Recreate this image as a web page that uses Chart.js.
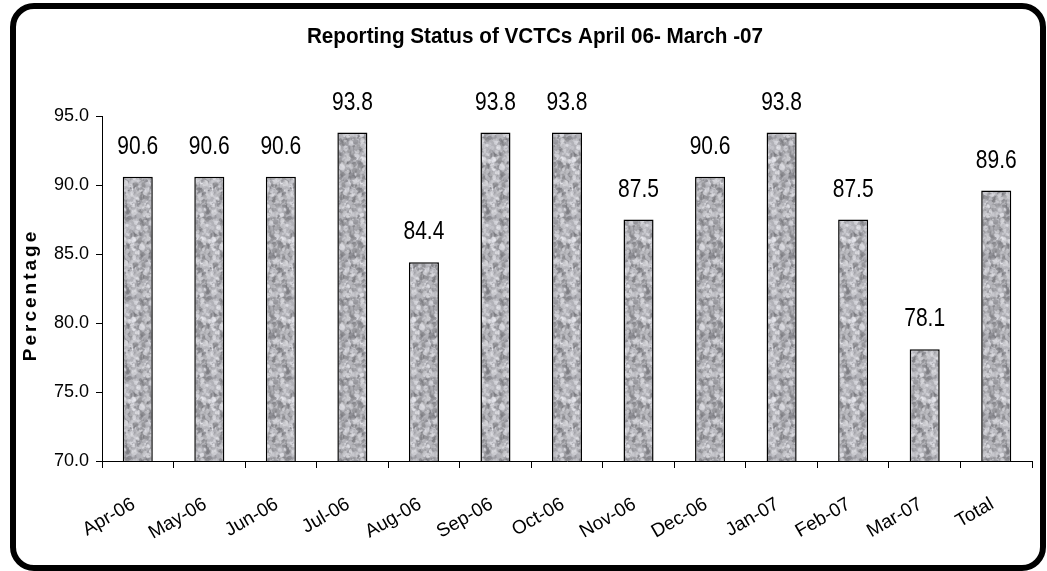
<!DOCTYPE html>
<html lang="en">
<head>
  <meta charset="UTF-8">
  <title>Reporting Status of VCTCs</title>
  <script src="https://cdn.jsdelivr.net/npm/chart.js"></script>
  <style>
    body { margin: 0; background: #fff; font-family: Arial, "Liberation Sans", sans-serif; }
    #wrap { position: relative; width: 1047px; height: 571px; overflow: hidden; }
    #frame {
      position: absolute; left: 10px; top: 3px; width: 1036px; height: 568px;
      box-sizing: border-box; border: 6px solid #000; border-radius: 24px;
    }
    canvas { position: absolute; left: 0; top: 0; }
  </style>
</head>
<body>
<div id="wrap">
  <div id="frame"></div>
  <canvas id="grafiku" width="1047" height="571"></canvas>
</div>
<script>
  const titulli = 'Reporting Status of VCTCs April 06- March -07';
  const muajt = ['Apr-06', 'May-06', 'Jun-06', 'Jul-06', 'Aug-06', 'Sep-06', 'Oct-06',
                 'Nov-06', 'Dec-06', 'Jan-07', 'Feb-07', 'Mar-07', 'Total'];
  const perqindja = [90.6, 90.6, 90.6, 93.8, 84.4, 93.8, 93.8, 87.5, 90.6, 93.8, 87.5, 78.1, 89.6];
  const yTicks = [70, 75, 80, 85, 90, 95];

  // granite texture for bars (seeded so it is the same each run)
  function rng(seed) {
    return function () {
      seed |= 0; seed = seed + 0x6D2B79F5 | 0;
      let t = Math.imul(seed ^ seed >>> 15, 1 | seed);
      t = t + Math.imul(t ^ t >>> 7, 61 | t) ^ t;
      return ((t ^ t >>> 14) >>> 0) / 4294967296;
    };
  }
  function granit() {
    const w = 40, h = 80;
    const raw = document.createElement('canvas');
    raw.width = w; raw.height = h;
    const c = raw.getContext('2d');
    c.fillStyle = '#b2b2b8';
    c.fillRect(0, 0, w, h);
    const r = rng(11);
    for (let i = 0; i < 700; i++) {
      const dark = r() < 0.45;
      const g = dark ? Math.round(95 + r() * 60) : Math.round(185 + r() * 65);
      c.fillStyle = `rgba(${g},${g},${g + 5},0.5)`;
      const x = r() * w, y = r() * h, s = 0.8 + r() * 2.2;
      const e = 0.4 + r() * 0.7, a = r() * 3;
      for (const dx of [-w, 0, w]) for (const dy of [-h, 0, h]) {
        c.beginPath();
        c.ellipse(x + dx, y + dy, s, s * e, a, 0, Math.PI * 2);
        c.fill();
      }
    }
    const out = document.createElement('canvas');
    out.width = w; out.height = h;
    const o = out.getContext('2d');
    o.filter = 'blur(0.6px)';
    for (const dx of [-w, 0, w]) for (const dy of [-h, 0, h]) o.drawImage(raw, dx, dy);
    return o.createPattern(out, 'repeat');
  }

  const tekstet = {
    id: 'tekstet',
    afterDatasetsDraw(chart) {
      const ctx = chart.ctx;
      const meta = chart.getDatasetMeta(0);
      ctx.save();
      ctx.fillStyle = '#000';
      ctx.font = '25px Arial, "Liberation Sans"';
      ctx.textAlign = 'center';
      ctx.textBaseline = 'alphabetic';
      meta.data.forEach((bar, i) => {
        ctx.save();
        ctx.translate(bar.x, bar.y - 23);
        ctx.scale(0.84, 1);
        ctx.fillText(perqindja[i].toFixed(1), 0, 0);
        ctx.restore();
      });
      // titulli
      ctx.save();
      ctx.font = 'bold 22px Arial, "Liberation Sans"';
      ctx.translate(535, 43);
      ctx.scale(0.94, 1);
      ctx.fillText(titulli, 0, 0);
      ctx.restore();
      // titulli i boshtit y
      ctx.save();
      ctx.font = 'bold 19px Arial, "Liberation Sans"';
      ctx.letterSpacing = '3px';
      ctx.textBaseline = 'middle';
      ctx.translate(31, 295);
      ctx.rotate(-Math.PI / 2);
      ctx.fillText('Percentage', 0, 0);
      ctx.restore();
      ctx.restore();
    }
  };

  const ctx = document.getElementById('grafiku').getContext('2d');
  new Chart(ctx, {
    type: 'bar',
    data: {
      labels: muajt,
      datasets: [{
        data: perqindja,
        backgroundColor: granit(),
        borderColor: '#000',
        borderWidth: 1.5,
        borderSkipped: false,
        categoryPercentage: 1,
        barPercentage: 0.42
      }]
    },
    options: {
      responsive: false,
      animation: false,
      devicePixelRatio: 1,
      layout: { padding: { left: 10, right: 15, top: 116, bottom: 0 } },
      plugins: { legend: { display: false }, tooltip: { enabled: false }, title: { display: false } },
      scales: {
        x: {
          offset: true,
          grid: { offset: true, drawOnChartArea: false, drawTicks: true, tickLength: 7, color: '#000' },
          border: { color: '#000', width: 1 },
          ticks: {
            autoSkip: false, minRotation: 30, maxRotation: 30, padding: 25, labelOffset: -4,
            color: '#000', font: { family: 'Arial, "Liberation Sans"', size: 19 }
          },
          afterFit(scale) { scale.height = 110; }
        },
        y: {
          min: 70, max: 95,
          afterBuildTicks(scale) { scale.ticks = yTicks.map(v => ({ value: v })); },
          grid: { drawOnChartArea: false, drawTicks: true, tickLength: 6, color: '#000' },
          border: { color: '#000', width: 1 },
          ticks: {
            padding: 7, color: '#000',
            font: { family: 'Arial, "Liberation Sans"', size: 18 },
            callback: v => Number(v).toFixed(1)
          },
          afterFit(scale) { scale.width = 92; }
        }
      }
    },
    plugins: [tekstet]
  });
</script>
</body>
</html>
